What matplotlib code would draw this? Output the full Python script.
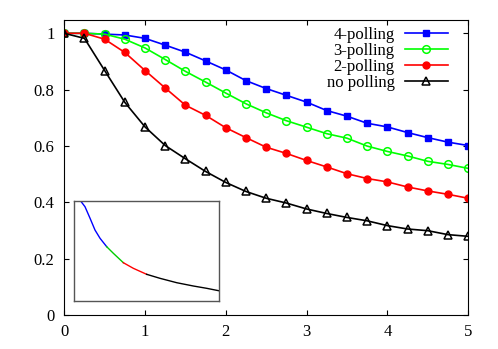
import matplotlib
matplotlib.use( "Agg" )
import matplotlib.pyplot as plt
from matplotlib.ticker import FuncFormatter

# time axis (sampled every 0.25)
t = [ 0, 0.25, 0.5, 0.75, 1.0, 1.25, 1.5, 1.75, 2.0, 2.25, 2.5,
      2.75, 3.0, 3.25, 3.5, 3.75, 4.0, 4.25, 4.5, 4.75, 5.0 ]

poll4 = [ 1.0, 1.0, 0.997, 0.994, 0.982, 0.958, 0.933, 0.902, 0.870, 0.832, 0.804,
          0.780, 0.756, 0.726, 0.706, 0.681, 0.668, 0.648, 0.630, 0.614, 0.602 ]
poll3 = [ 1.0, 1.0, 0.997, 0.979, 0.948, 0.907, 0.865, 0.827, 0.788, 0.750, 0.718,
          0.690, 0.667, 0.644, 0.628, 0.600, 0.581, 0.565, 0.546, 0.535, 0.521 ]
poll2 = [ 1.0, 1.0, 0.979, 0.932, 0.868, 0.806, 0.745, 0.709, 0.665, 0.630, 0.596,
          0.574, 0.549, 0.526, 0.502, 0.485, 0.473, 0.455, 0.441, 0.429, 0.415 ]
nopoll = [ 1.0, 0.982, 0.868, 0.755, 0.668, 0.602, 0.555, 0.510, 0.471, 0.439, 0.415,
           0.398, 0.377, 0.361, 0.347, 0.335, 0.318, 0.306, 0.300, 0.286, 0.280 ]

labels = [ "4-polling", "3-polling", "2-polling", "no polling" ]

# inset curve (normalised units) and where its colour changes
inset_x = [ 0, 0.046, 0.076, 0.111, 0.145, 0.18, 0.226, 0.272, 0.341, 0.41,
            0.502, 0.594, 0.71, 0.825, 0.917, 1.0 ]
inset_y = [ 1.0, 1.0, 0.943, 0.827, 0.71, 0.627, 0.543, 0.477, 0.383, 0.327,
            0.267, 0.227, 0.183, 0.15, 0.127, 0.103 ]
inset_breaks = [ 0, 6, 8, 10, 15 ]
inset_colors = [ "#0000ff", "#00cc00", "#ff0000", "black" ]

plt.rcParams[ "font.family" ] = [ "Liberation Serif", "DejaVu Serif" ]
plt.rcParams[ "font.size" ] = 12

fig = plt.figure( figsize = ( 4.98, 3.49 ), dpi = 100 )
ax = fig.add_axes( [ 0.129, 0.0966, 0.811, 0.846 ] )

ax.plot( t, poll4, color = "#0000ff", lw = 1.2, marker = "s", ms = 5, label = labels[ 0 ] )
ax.plot( t, poll3, color = "#00ff00", lw = 1.2, marker = "o", ms = 5.5, mfc = "none", mew = 1.1, label = labels[ 1 ] )
ax.plot( t, poll2, color = "#ff0000", lw = 1.2, marker = "o", ms = 5, label = labels[ 2 ] )
ax.plot( t, nopoll, color = "black", lw = 1.2, marker = "^", ms = 5.5, mfc = "none", mew = 1.1, label = labels[ 3 ] )

ax.set_xlim( 0, 5 )
ax.set_ylim( 0, 1.047 )
ax.set_xticks( [ 0, 1, 2, 3, 4, 5 ] )
ax.set_yticks( [ 0, 0.2, 0.4, 0.6, 0.8, 1.0 ] )
ax.yaxis.set_major_formatter( FuncFormatter( lambda v, p: "%g" % v ) )
ax.tick_params( direction = "in", top = True, right = True, length = 3.6, width = 0.8 )
ax.tick_params( axis = "x", pad = 6 )
ax.tick_params( axis = "y", pad = 7 )
for s in ax.spines.values():
    s.set_linewidth( 0.8 )

# markerfirst=False right-aligns the labels, gnuplot style
leg = ax.legend( loc = "upper right", bbox_to_anchor = ( 0.967, 1.0 ), frameon = False,
                 markerfirst = False, handlelength = 2.6, handletextpad = 0.6,
                 labelspacing = 0.0, borderaxespad = 0.2, borderpad = 0.2 )

# inset
axi = fig.add_axes( [ 0.1486, 0.1375, 0.2906, 0.2865 ] )
for i in range( len( inset_colors ) ):
    a, b = inset_breaks[ i ], inset_breaks[ i + 1 ]
    axi.plot( inset_x[ a:b + 1 ], inset_y[ a:b + 1 ], color = inset_colors[ i ], lw = 1.0 )
axi.set_xlim( 0, 1 )
axi.set_ylim( 0, 1.0 )
axi.set_xticks( [] )
axi.set_yticks( [] )
for s in axi.spines.values():
    s.set_color( "#555555" )
    s.set_linewidth( 1.0 )

fig.savefig( "out.png", dpi = 100 )
